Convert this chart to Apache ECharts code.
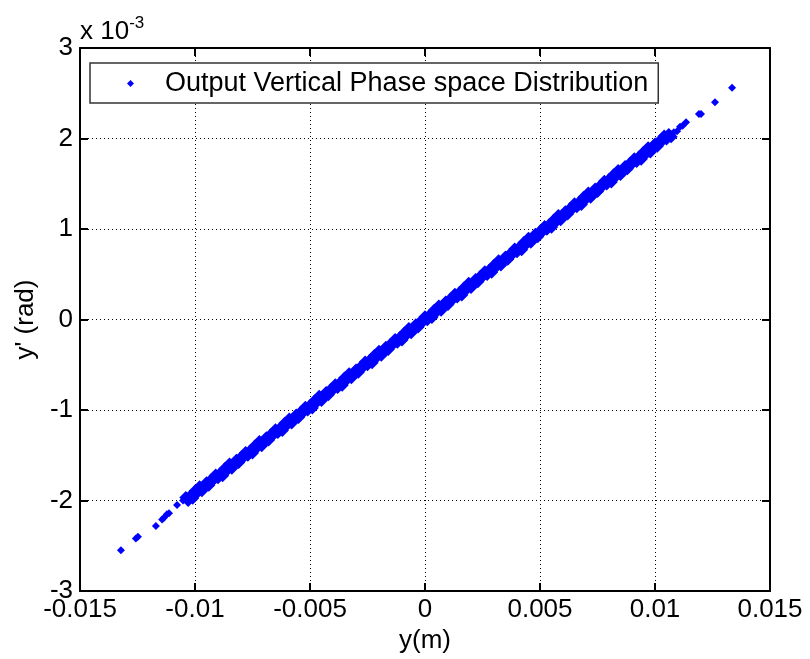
<!DOCTYPE html>
<html>
<head>
<meta charset="utf-8">
<script src="https://cdn.jsdelivr.net/npm/echarts@6/dist/echarts.min.js"></script>
<style>
  html, body { margin: 0; padding: 0; background: #fff; }
  #chart { width: 810px; height: 659px; }
</style>
</head>
<body>
<div id="chart"></div>
<script>
// Output vertical phase space: particle position y (m) and divergence y' (rad)
// Dense core of the beam
const corePosition = [
  -0.0104, -0.0103, -0.0102, -0.0101, -0.0100, -0.0099, -0.0098, -0.0097, -0.0096, -0.0095,
  -0.0094, -0.0093, -0.0092, -0.0091, -0.0090, -0.0089, -0.0088, -0.0087, -0.0086, -0.0085,
  -0.0084, -0.0083, -0.0082, -0.0081, -0.0080, -0.0079, -0.0078, -0.0077, -0.0076, -0.0075,
  -0.0074, -0.0073, -0.0072, -0.0071, -0.0070, -0.0069, -0.0068, -0.0067, -0.0066, -0.0065,
  -0.0064, -0.0063, -0.0062, -0.0061, -0.0060, -0.0059, -0.0058, -0.0057, -0.0056, -0.0055,
  -0.0054, -0.0053, -0.0052, -0.0051, -0.0050, -0.0049, -0.0048, -0.0047, -0.0046, -0.0045,
  -0.0044, -0.0043, -0.0042, -0.0041, -0.0040, -0.0039, -0.0038, -0.0037, -0.0036, -0.0035,
  -0.0034, -0.0033, -0.0032, -0.0031, -0.0030, -0.0029, -0.0028, -0.0027, -0.0026, -0.0025,
  -0.0024, -0.0023, -0.0022, -0.0021, -0.0020, -0.0019, -0.0018, -0.0017, -0.0016, -0.0015,
  -0.0014, -0.0013, -0.0012, -0.0011, -0.0010, -0.0009, -0.0008, -0.0007, -0.0006, -0.0005,
  -0.0004, -0.0003, -0.0002, -0.0001, 0.0000, 0.0001, 0.0002, 0.0003, 0.0004, 0.0005,
  0.0006, 0.0007, 0.0008, 0.0009, 0.0010, 0.0011, 0.0012, 0.0013, 0.0014, 0.0015,
  0.0016, 0.0017, 0.0018, 0.0019, 0.0020, 0.0021, 0.0022, 0.0023, 0.0024, 0.0025,
  0.0026, 0.0027, 0.0028, 0.0029, 0.0030, 0.0031, 0.0032, 0.0033, 0.0034, 0.0035,
  0.0036, 0.0037, 0.0038, 0.0039, 0.0040, 0.0041, 0.0042, 0.0043, 0.0044, 0.0045,
  0.0046, 0.0047, 0.0048, 0.0049, 0.0050, 0.0051, 0.0052, 0.0053, 0.0054, 0.0055,
  0.0056, 0.0057, 0.0058, 0.0059, 0.0060, 0.0061, 0.0062, 0.0063, 0.0064, 0.0065,
  0.0066, 0.0067, 0.0068, 0.0069, 0.0070, 0.0071, 0.0072, 0.0073, 0.0074, 0.0075,
  0.0076, 0.0077, 0.0078, 0.0079, 0.0080, 0.0081, 0.0082, 0.0083, 0.0084, 0.0085,
  0.0086, 0.0087, 0.0088, 0.0089, 0.0090, 0.0091, 0.0092, 0.0093, 0.0094, 0.0095,
  0.0096, 0.0097, 0.0098, 0.0099, 0.0100, 0.0101, 0.0102, 0.0103, 0.0104, 0.0105,
  0.0106, 0.0107
];

const coreAngle = [
  -1.967e-3, -1.998e-3, -1.948e-3, -1.974e-3, -1.895e-3, -1.911e-3, -1.847e-3, -1.892e-3, -1.843e-3, -1.804e-3,
  -1.830e-3, -1.771e-3, -1.771e-3, -1.717e-3, -1.748e-3, -1.699e-3, -1.725e-3, -1.645e-3, -1.661e-3, -1.597e-3,
  -1.643e-3, -1.594e-3, -1.554e-3, -1.580e-3, -1.521e-3, -1.522e-3, -1.468e-3, -1.498e-3, -1.449e-3, -1.475e-3,
  -1.396e-3, -1.412e-3, -1.347e-3, -1.393e-3, -1.344e-3, -1.305e-3, -1.331e-3, -1.271e-3, -1.272e-3, -1.218e-3,
  -1.249e-3, -1.200e-3, -1.225e-3, -1.146e-3, -1.162e-3, -1.098e-3, -1.144e-3, -1.094e-3, -1.055e-3, -1.081e-3,
  -1.022e-3, -1.023e-3, -0.968e-3, -0.999e-3, -0.950e-3, -0.976e-3, -0.897e-3, -0.912e-3, -0.848e-3, -0.894e-3,
  -0.845e-3, -0.806e-3, -0.831e-3, -0.772e-3, -0.773e-3, -0.719e-3, -0.750e-3, -0.700e-3, -0.726e-3, -0.647e-3,
  -0.663e-3, -0.599e-3, -0.644e-3, -0.595e-3, -0.556e-3, -0.582e-3, -0.523e-3, -0.523e-3, -0.469e-3, -0.500e-3,
  -0.451e-3, -0.477e-3, -0.397e-3, -0.413e-3, -0.349e-3, -0.395e-3, -0.346e-3, -0.306e-3, -0.332e-3, -0.273e-3,
  -0.274e-3, -0.220e-3, -0.250e-3, -0.201e-3, -0.227e-3, -0.148e-3, -0.164e-3, -0.099e-3, -0.145e-3, -0.096e-3,
  -0.057e-3, -0.083e-3, -0.023e-3, -0.024e-3, 0.030e-3, -0.001e-3, 0.048e-3, 0.023e-3, 0.102e-3, 0.086e-3,
  0.150e-3, 0.104e-3, 0.154e-3, 0.193e-3, 0.167e-3, 0.226e-3, 0.225e-3, 0.280e-3, 0.249e-3, 0.298e-3,
  0.272e-3, 0.351e-3, 0.336e-3, 0.400e-3, 0.354e-3, 0.403e-3, 0.442e-3, 0.417e-3, 0.476e-3, 0.475e-3,
  0.529e-3, 0.498e-3, 0.548e-3, 0.522e-3, 0.601e-3, 0.585e-3, 0.649e-3, 0.604e-3, 0.653e-3, 0.692e-3,
  0.666e-3, 0.725e-3, 0.725e-3, 0.779e-3, 0.748e-3, 0.797e-3, 0.771e-3, 0.851e-3, 0.835e-3, 0.899e-3,
  0.853e-3, 0.902e-3, 0.942e-3, 0.916e-3, 0.975e-3, 0.974e-3, 1.028e-3, 0.998e-3, 1.047e-3, 1.021e-3,
  1.100e-3, 1.084e-3, 1.149e-3, 1.103e-3, 1.152e-3, 1.191e-3, 1.165e-3, 1.225e-3, 1.224e-3, 1.278e-3,
  1.247e-3, 1.296e-3, 1.271e-3, 1.350e-3, 1.334e-3, 1.398e-3, 1.352e-3, 1.402e-3, 1.441e-3, 1.415e-3,
  1.474e-3, 1.473e-3, 1.528e-3, 1.497e-3, 1.546e-3, 1.520e-3, 1.599e-3, 1.584e-3, 1.648e-3, 1.602e-3,
  1.651e-3, 1.690e-3, 1.665e-3, 1.724e-3, 1.723e-3, 1.777e-3, 1.746e-3, 1.796e-3, 1.770e-3, 1.849e-3,
  1.833e-3, 1.897e-3, 1.852e-3, 1.901e-3, 1.940e-3, 1.914e-3, 1.973e-3, 1.973e-3, 2.027e-3, 1.996e-3,
  2.045e-3, 2.019e-3
];

// Sparse halo particles at both ends
const haloPosition = [
  -0.01322, -0.01257, -0.01248, -0.01170, -0.01143, -0.01135, -0.01122, -0.01113,
  -0.01078, -0.01052, -0.01043,
  0.01068, 0.01082, 0.01096, 0.01109, 0.01120, 0.01135, 0.01191, 0.01200, 0.01261, 0.01335
];

const haloAngle = [
  -2.55e-3, -2.42e-3, -2.40e-3, -2.28e-3, -2.21e-3, -2.19e-3, -2.15e-3, -2.14e-3,
  -2.05e-3, -2.00e-3, -1.98e-3,
  2.04e-3, 2.07e-3, 2.08e-3, 2.13e-3, 2.14e-3, 2.18e-3, 2.27e-3, 2.27e-3, 2.40e-3, 2.56e-3
];

const seriesName = 'Output Vertical Phase space Distribution';
const xTitle = 'y(m)';
const yTitle = "y' (rad)";

const FONT = 'Liberation Sans, Arial, Helvetica, sans-serif';
const BLUE = '#0000ff';

// Core markers overlap into a solid band; halo markers stay single dots
const points = corePosition.map((v, i) => ({ value: [v, coreAngle[i]], symbolSize: 13 }))
  .concat(haloPosition.map((v, i) => ({ value: [v, haloAngle[i]], symbolSize: 8 })));

const xFmt = v => String(+v.toFixed(4));
const yFmt = v => String(Math.round(v * 1000));

const frameLine = { show: true, onZero: false, lineStyle: { color: '#000', width: 2 } };
const tickIn = { show: true, inside: true, length: 8, lineStyle: { color: '#000', width: 2 } };
const dotted = { show: true, lineStyle: { color: '#000', width: 1, type: [1, 3] } };

const chart = echarts.init(document.getElementById('chart'), null, { renderer: 'canvas' });
chart.setOption({
  animation: false,
  backgroundColor: '#fff',
  grid: { left: 80, right: 40, top: 48, bottom: 65, containLabel: false },
  xAxis: [
    {
      type: 'value', min: -0.015, max: 0.015, interval: 0.005,
      axisLine: frameLine, axisTick: tickIn, splitLine: dotted,
      axisLabel: { formatter: xFmt, color: '#000', fontSize: 26, fontFamily: FONT, margin: 6 },
      name: xTitle, nameLocation: 'middle', nameGap: 36,
      nameTextStyle: { color: '#000', fontSize: 26, fontFamily: FONT, verticalAlign: 'top' }
    },
    {
      type: 'value', position: 'top', min: -0.015, max: 0.015, interval: 0.005,
      axisLine: frameLine, axisTick: tickIn, splitLine: { show: false },
      axisLabel: { show: false }
    }
  ],
  yAxis: [
    {
      type: 'value', min: -0.003, max: 0.003, interval: 0.001,
      axisLine: frameLine, axisTick: tickIn, splitLine: dotted,
      axisLabel: { formatter: yFmt, color: '#000', fontSize: 26, fontFamily: FONT, margin: 7 },
      name: yTitle, nameLocation: 'middle', nameGap: 48, nameRotate: 90,
      nameTextStyle: { color: '#000', fontSize: 26, fontFamily: FONT, verticalAlign: 'middle' }
    },
    {
      type: 'value', position: 'right', min: -0.003, max: 0.003, interval: 0.001,
      axisLine: frameLine, axisTick: tickIn, splitLine: { show: false },
      axisLabel: { show: false }
    }
  ],
  legend: {
    left: 90, top: 63,
    orient: 'horizontal',
    padding: [7, 10, 6, 37],
    backgroundColor: '#fff',
    borderColor: '#333', borderWidth: 1.5,
    itemWidth: 7, itemHeight: 7,
    icon: 'diamond',
    textStyle: { color: '#000', fontSize: 27, fontFamily: FONT, padding: [0, 0, 0, 26] },
    data: [seriesName]
  },
  graphic: [
    {
      type: 'text', left: 80, top: 15,
      style: {
        text: '{a|x 10}{b|-3}',
        rich: {
          a: { fontSize: 26, fontFamily: FONT, fill: '#000', verticalAlign: 'bottom', lineHeight: 30 },
          b: { fontSize: 17, fontFamily: FONT, fill: '#000', verticalAlign: 'top', lineHeight: 30 }
        }
      }
    }
  ],
  series: [
    {
      name: seriesName,
      type: 'scatter',
      symbol: 'diamond',
      itemStyle: { color: BLUE, opacity: 1 },
      data: points
    }
  ]
});
</script>
</body>
</html>
